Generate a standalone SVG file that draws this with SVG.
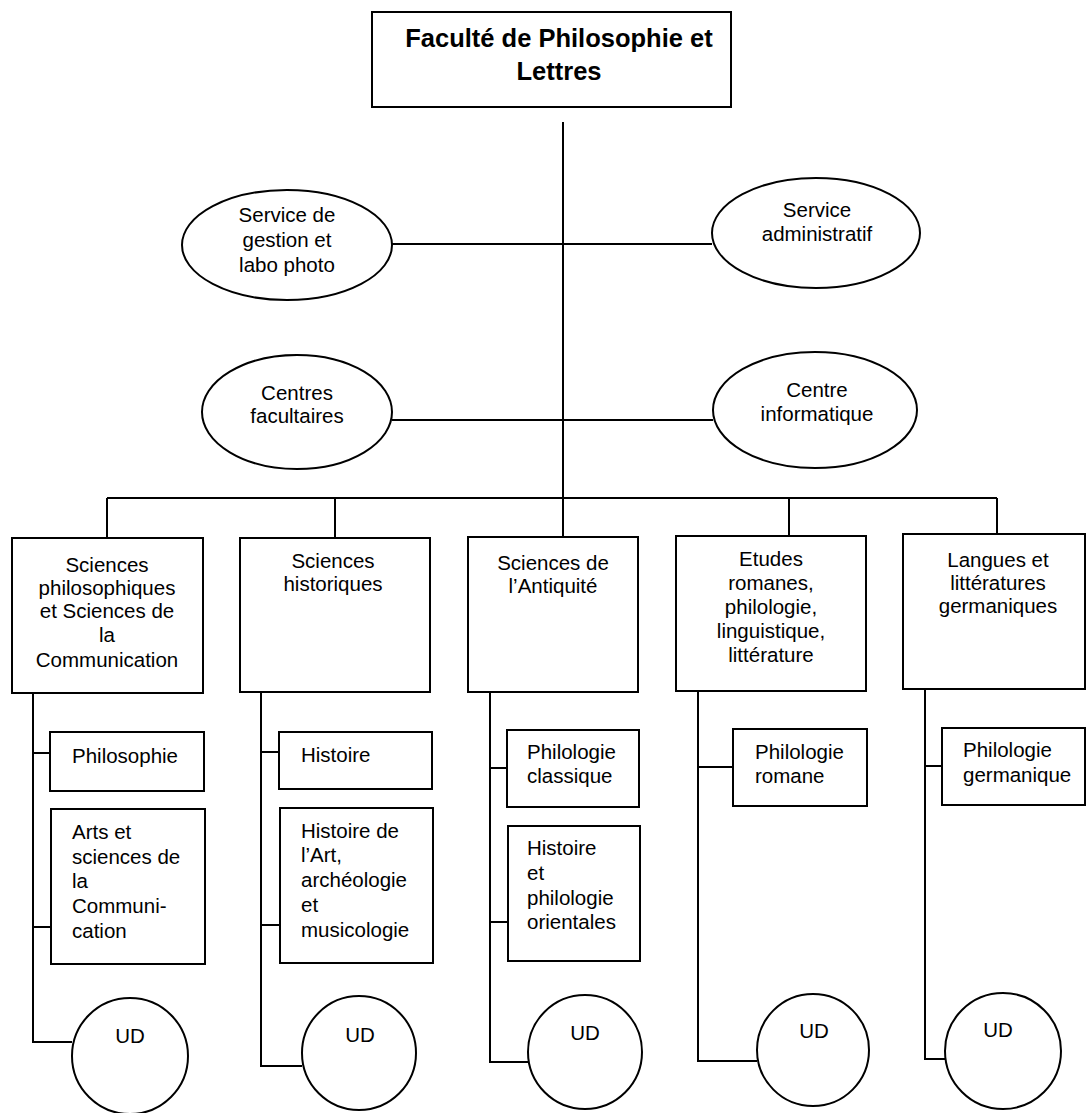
<svg xmlns="http://www.w3.org/2000/svg" width="1087" height="1113" viewBox="0 0 1087 1113">
<style>
.n{fill:#fff;stroke:#000;stroke-width:2}
.c{fill:none;stroke:#000;stroke-width:2}
text{font-family:"Liberation Sans",Arial,sans-serif;font-size:20.5px;fill:#000}
.m{text-anchor:middle}
.t{font-size:25.5px;font-weight:bold}
</style>
<rect width="1087" height="1113" fill="#fff"/>
<g id="connectors">
<path class="c" d="M563 122V538M392 244H712M392 420H713M107 498H997M107 498V538M335 498V538M789 498V536M997 498V534"/>
<path class="c" d="M33 693V1042H72M33 753H50M33 927H51"/>
<path class="c" d="M261 692V1066H302M261 752H279M261 925H280"/>
<path class="c" d="M490 692V1062H528M490 768H507M490 922H508"/>
<path class="c" d="M698 691V1061H757M698 767H733"/>
<path class="c" d="M925 689V1059H945M925 766H942"/>
</g>
<g id="faculte"><rect class="n" x="372" y="12" width="359" height="95"/><text class="m t" x="559" y="47">Faculté de Philosophie et</text><text class="m t" x="559" y="80">Lettres</text></g>
<g id="service-gestion"><ellipse class="n" cx="287" cy="245" rx="105" ry="55"/><text class="m" x="287" y="222">Service de</text><text class="m" x="287" y="247">gestion et</text><text class="m" x="287" y="272">labo photo</text></g>
<g id="service-admin"><ellipse class="n" cx="816" cy="233" rx="104" ry="55"/><text class="m" x="817" y="217">Service</text><text class="m" x="817" y="241">administratif</text></g>
<g id="centres-facultaires"><ellipse class="n" cx="297" cy="412" rx="95" ry="57"/><text class="m" x="297" y="400">Centres</text><text class="m" x="297" y="423">facultaires</text></g>
<g id="centre-informatique"><ellipse class="n" cx="815" cy="410" rx="102" ry="58"/><text class="m" x="817" y="397">Centre</text><text class="m" x="817" y="421">informatique</text></g>
<g id="sc-philo"><rect class="n" x="12" y="538" width="191" height="155"/><text class="m" x="107" y="572">Sciences</text><text class="m" x="107" y="595">philosophiques</text><text class="m" x="107" y="618">et Sciences de</text><text class="m" x="107" y="642">la</text><text class="m" x="107" y="667">Communication</text></g>
<g id="sc-hist"><rect class="n" x="240" y="538" width="190" height="154"/><text class="m" x="333" y="568">Sciences</text><text class="m" x="333" y="591">historiques</text></g>
<g id="sc-antiq"><rect class="n" x="468" y="537" width="170" height="155"/><text class="m" x="553" y="570">Sciences de</text><text class="m" x="553" y="593">l’Antiquité</text></g>
<g id="etudes-romanes"><rect class="n" x="676" y="536" width="190" height="155"/><text class="m" x="771" y="566">Etudes</text><text class="m" x="771" y="590">romanes,</text><text class="m" x="771" y="614">philologie,</text><text class="m" x="771" y="638">linguistique,</text><text class="m" x="771" y="662">littérature</text></g>
<g id="langues-germ"><rect class="n" x="903" y="534" width="182" height="155"/><text class="m" x="998" y="567">Langues et</text><text class="m" x="998" y="590">littératures</text><text class="m" x="998" y="613">germaniques</text></g>
<g id="philosophie"><rect class="n" x="50" y="732" width="154" height="59"/><text x="72" y="763">Philosophie</text></g>
<g id="arts-sciences"><rect class="n" x="51" y="809" width="154" height="155"/><text x="72" y="839">Arts et</text><text x="72" y="864">sciences de</text><text x="72" y="888">la</text><text x="72" y="913">Communi-</text><text x="72" y="938">cation</text></g>
<g id="histoire"><rect class="n" x="279" y="732" width="153" height="57"/><text x="301" y="762">Histoire</text></g>
<g id="histoire-art"><rect class="n" x="280" y="808" width="153" height="155"/><text x="301" y="838">Histoire de</text><text x="301" y="862">l’Art,</text><text x="301" y="887">archéologie</text><text x="301" y="912">et</text><text x="301" y="937">musicologie</text></g>
<g id="philo-classique"><rect class="n" x="507" y="730" width="132" height="77"/><text x="527" y="759">Philologie</text><text x="527" y="783">classique</text></g>
<g id="hist-orient"><rect class="n" x="508" y="826" width="132" height="135"/><text x="527" y="855">Histoire</text><text x="527" y="880">et</text><text x="527" y="905">philologie</text><text x="527" y="929">orientales</text></g>
<g id="philo-romane"><rect class="n" x="733" y="729" width="134" height="77"/><text x="755" y="759">Philologie</text><text x="755" y="783">romane</text></g>
<g id="philo-germ"><rect class="n" x="942" y="728" width="143" height="77"/><text x="963" y="757">Philologie</text><text x="963" y="782">germanique</text></g>
<g id="ud1"><circle class="n" cx="130" cy="1056" r="58"/><text class="m" x="130" y="1043">UD</text></g>
<g id="ud2"><circle class="n" cx="359" cy="1053" r="57"/><text class="m" x="360" y="1042">UD</text></g>
<g id="ud3"><circle class="n" cx="585" cy="1052" r="57"/><text class="m" x="585" y="1040">UD</text></g>
<g id="ud4"><circle class="n" cx="813" cy="1050" r="56"/><text class="m" x="814" y="1038">UD</text></g>
<g id="ud5"><circle class="n" cx="1003" cy="1051" r="58"/><text class="m" x="998" y="1037">UD</text></g>
</svg>
